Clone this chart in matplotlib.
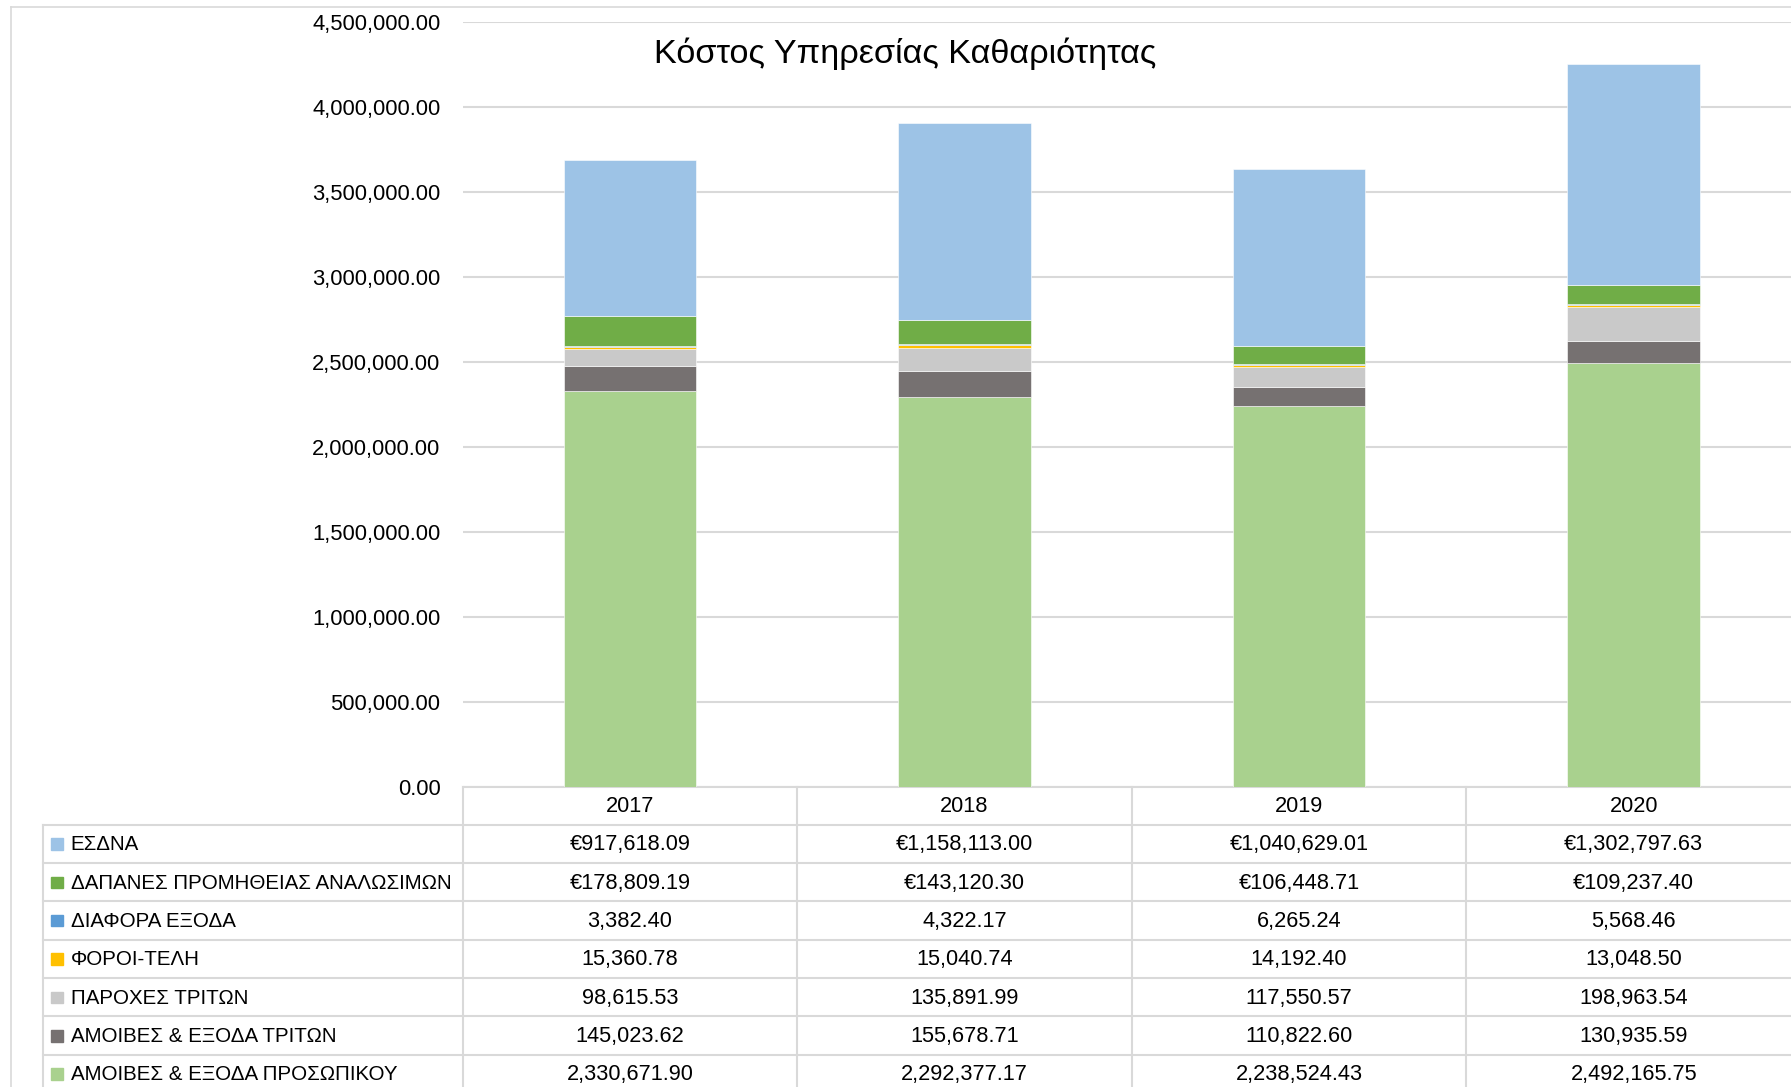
import matplotlib
matplotlib.use("Agg")
import matplotlib.pyplot as plt
from matplotlib.ticker import FuncFormatter, MultipleLocator
from matplotlib.transforms import blended_transform_factory

plt.rcParams['font.family'] = ['Liberation Sans', 'DejaVu Sans']

# δεδομένα
years = ['2017', '2018', '2019', '2020']
labels = ['ΕΣΔΝΑ', 'ΔΑΠΑΝΕΣ ΠΡΟΜΗΘΕΙΑΣ ΑΝΑΛΩΣΙΜΩΝ', 'ΔΙΑΦΟΡΑ ΕΞΟΔΑ', 'ΦΟΡΟΙ-ΤΕΛΗ',
          'ΠΑΡΟΧΕΣ ΤΡΙΤΩΝ', 'ΑΜΟΙΒΕΣ & ΕΞΟΔΑ ΤΡΙΤΩΝ', 'ΑΜΟΙΒΕΣ & ΕΞΟΔΑ ΠΡΟΣΩΠΙΚΟΥ']
esdna = [917618.09, 1158113.00, 1040629.01, 1302797.63]
dapanes = [178809.19, 143120.30, 106448.71, 109237.40]
diafora = [3382.40, 4322.17, 6265.24, 5568.46]
foroi = [15360.78, 15040.74, 14192.40, 13048.50]
paroxes = [98615.53, 135891.99, 117550.57, 198963.54]
amoives_triton = [145023.62, 155678.71, 110822.60, 130935.59]
amoives_prosopikou = [2330671.90, 2292377.17, 2238524.43, 2492165.75]
prefixes = ['€', '€', '', '', '', '', '']
colors = ['#9DC3E6', '#70AD47', '#5B9BD5', '#FFC000', '#C9C9C9', '#767171', '#A9D18E']

series = [esdna, dapanes, diafora, foroi, paroxes, amoives_triton, amoives_prosopikou]

W, H = 1791, 1087
fig = plt.figure(figsize=(W / 100, H / 100), dpi=100)

# overlay σε pixels για πλαίσιο και πίνακα
ov = fig.add_axes([0, 0, 1, 1])
ov.set_xlim(0, W)
ov.set_ylim(H, 0)
ov.axis('off')
ov.patch.set_visible(False)

grid_c = '#D9D9D9'
fs_num = 15.7
fs_lab = 14.8

# πλαίσιο γραφήματος
ov.plot([10.5, 10.5], [7, H], color=grid_c, lw=1.2)
ov.plot([10.5, W], [7, 7], color=grid_c, lw=1.2)

x_left, x_right = 462.6, 1801
y_top, y_zero = 21.7, 787
ax = fig.add_axes([x_left / W, 1 - y_zero / H, (x_right - x_left) / W, (y_zero - y_top) / H])

x = range(len(years))
bottom = [0] * len(years)
# στοίβαξη από κάτω προς τα πάνω
for vals, c in zip(series[::-1], colors[::-1]):
    ax.bar(x, vals, width=0.396, bottom=bottom, color=c, edgecolor='#FFFFFF', linewidth=0.4, zorder=3)
    bottom = [b + v for b, v in zip(bottom, vals)]

ax.set_xlim(-0.5, 3.5)
ax.set_ylim(0, 4500000)
ax.yaxis.set_major_locator(MultipleLocator(500000))
ax.yaxis.set_major_formatter(FuncFormatter(lambda v, p: '{:,.2f}'.format(v)))
ax.grid(axis='y', color=grid_c, lw=1.5, zorder=0)
ax.set_xticks([])
ax.tick_params(axis='y', length=0, pad=16, labelsize=15.8, labelcolor='#000000')
for s in ['top', 'right', 'left']:
    ax.spines[s].set_visible(False)
ax.spines['bottom'].set_color(grid_c)
ax.spines['bottom'].set_linewidth(1.5)
ax.patch.set_visible(False)

fig.text(905 / W, 1 - 53.8 / H, 'Κόστος Υπηρεσίας Καθαριότητας', fontsize=24.7,
         ha='center', va='center', color='#000000')

# πίνακας δεδομένων
tr = blended_transform_factory(ax.transData, ov.transData)
header_b = 824.7
row_h = 38.35
n = len(labels)
ov.plot([43.4, W], [header_b, header_b], color=grid_c, lw=1.5)
for r in range(1, n + 1):
    yy = header_b + r * row_h
    ov.plot([43.4, W], [yy, yy], color=grid_c, lw=1.5)
ov.plot([43.4, 43.4], [header_b, H], color=grid_c, lw=1.5)
for i in range(len(years) + 1):
    ov.plot([i - 0.5, i - 0.5], [y_zero, H], color=grid_c, lw=1.5, transform=tr)

for i, yr in enumerate(years):
    ov.text(i, (y_zero + header_b) / 2 + 1, yr, transform=tr, ha='center', va='center', fontsize=fs_num)

for r, (lab, vals, c, pre) in enumerate(zip(labels, series, colors, prefixes)):
    yc = header_b + (r + 0.5) * row_h + 1
    ov.add_patch(plt.Rectangle((51.4, yc - 6.5), 11.4, 11.4, color=c))
    ov.text(70.8, yc, lab, ha='left', va='center', fontsize=fs_lab)
    for i, v in enumerate(vals):
        ov.text(i, yc, pre + '{:,.2f}'.format(v), transform=tr, ha='center', va='center', fontsize=fs_num)

fig.savefig('out.png', dpi=100)
